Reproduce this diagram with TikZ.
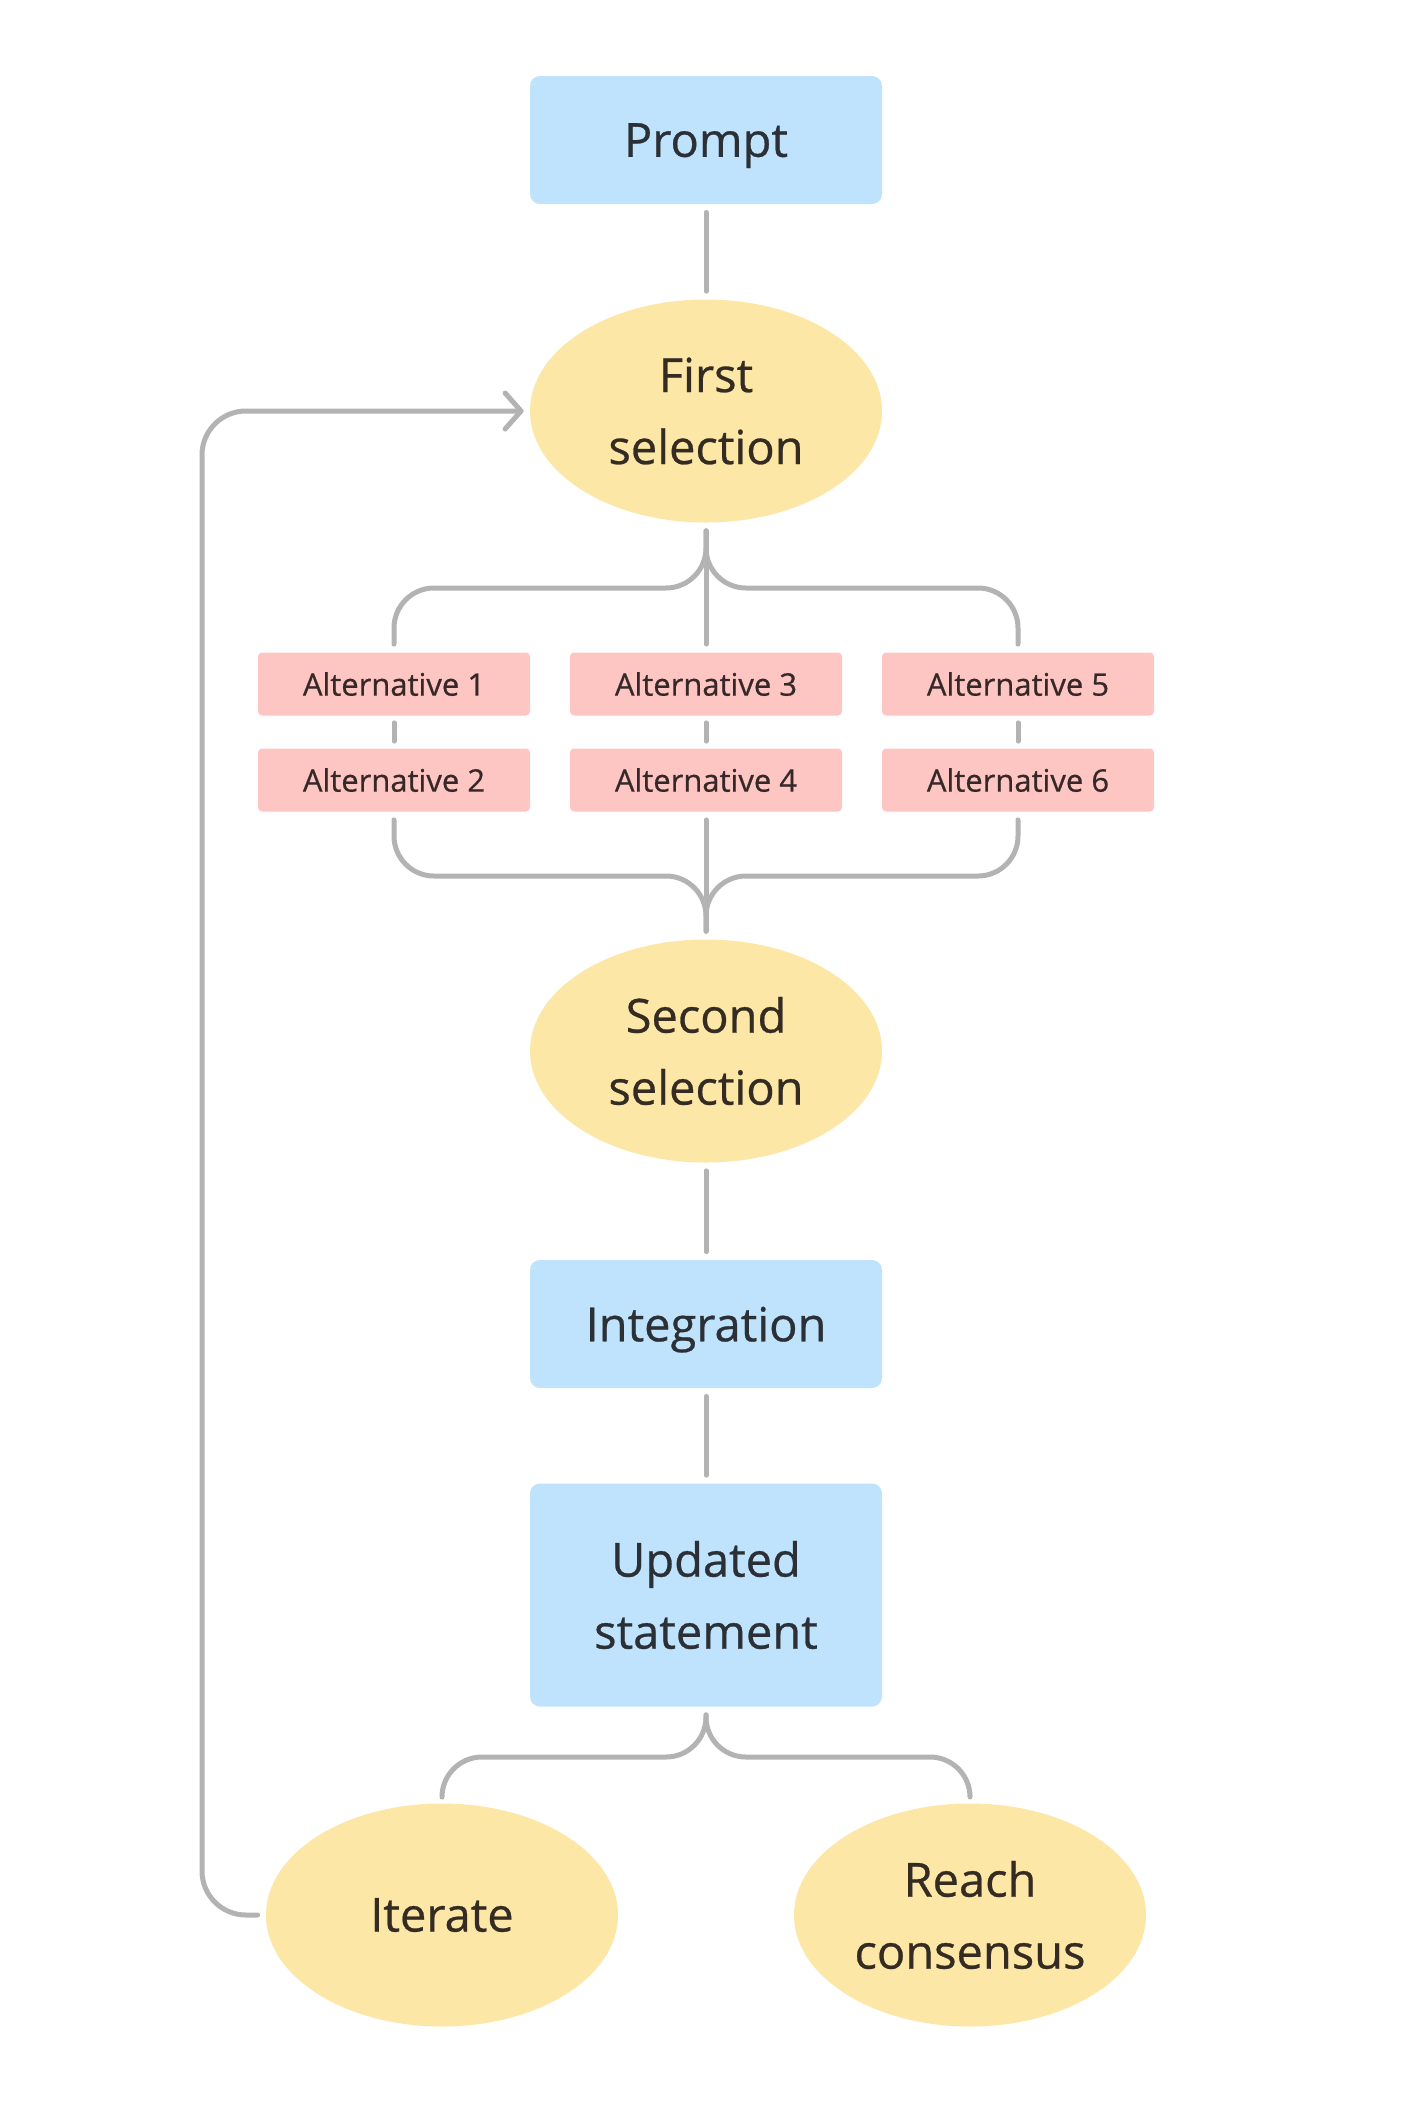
\documentclass[tikz,border=0pt]{standalone}
\usepackage{fontspec}
\setmainfont{Open Sans}[FakeBold=0.6]
\usetikzlibrary{shapes.geometric,arrows.meta,calc}
\definecolor{boxblue}{HTML}{BFE3FC}
\definecolor{ellyellow}{HTML}{FDE7A6}
\definecolor{altpink}{HTML}{FDC6C3}
\definecolor{linegray}{HTML}{B3B3B3}
\definecolor{txtblue}{HTML}{2A3036}
\definecolor{txtbrown}{HTML}{342C22}
\definecolor{txtpink}{HTML}{362828}
\begin{document}
\begin{tikzpicture}[x=0.5pt,y=-0.5pt,
  bluebox/.style={draw=none, fill=boxblue, rounded corners=5pt, minimum width=176pt, minimum height=64pt, inner sep=0pt, align=center, text=txtblue, font=\fontsize{23.5}{36}\selectfont},
  yell/.style={ellipse, draw=none, fill=ellyellow, minimum width=176pt, minimum height=111.5pt, inner sep=0pt, align=center, text=txtbrown, font=\fontsize{23.5}{36}\selectfont},
  alt/.style={draw=none, fill=altpink, rounded corners=2pt, minimum width=136pt, minimum height=31.5pt, inner sep=0pt, text=txtpink, font=\fontsize{15.5}{18}\selectfont},
  conn/.style={draw=linegray, line width=2.5pt, line cap=round, line join=round},
  brace/.style={conn, rounded corners=20pt}
]
\useasboundingbox[fill=white] (0,0) rectangle (1410,2106);

\node[bluebox, text depth=0pt] (prompt) at (706,140) {Prompt};
\node[yell] (fs) at (706,411) {First\\selection};
\node[alt] (a1) at (394,684) {Alternative 1};
\node[alt] (a2) at (394,780) {Alternative 2};
\node[alt] (a3) at (706,684) {Alternative 3};
\node[alt] (a4) at (706,780) {Alternative 4};
\node[alt] (a5) at (1018,684) {Alternative 5};
\node[alt] (a6) at (1018,780) {Alternative 6};
\node[yell] (ss) at (706,1051) {Second\\selection};
\node[bluebox, text depth=0pt] (integ) at (706,1324) {Integration};
\node[bluebox, minimum height=111.5pt] (upd) at (706,1595) {Updated\\statement};
\node[yell] (iter) at (442,1915) {Iterate};
\node[yell] (reach) at (970,1915) {Reach\\consensus};

\coordinate (j1) at (706,588);
\coordinate (j2) at (706,876);
\coordinate (j3) at (706,1757);
\coordinate (l1) at (202,1915);
\coordinate (l2) at (202,411);

\draw[conn] ([yshift=-4pt]prompt.south) -- ([yshift=4pt]fs.north);
\draw[conn] ([yshift=-4pt]fs.south) -- ([yshift=4pt]a3.north);
\draw[brace] ([yshift=-4pt]fs.south) -- (j1) -| ([yshift=4pt]a1.north);
\draw[brace] ([yshift=-4pt]fs.south) -- (j1) -| ([yshift=4pt]a5.north);

\draw[conn] ([yshift=-3.5pt]a1.south) -- ([yshift=3.5pt]a2.north);
\draw[conn] ([yshift=-3.5pt]a3.south) -- ([yshift=3.5pt]a4.north);
\draw[conn] ([yshift=-3.5pt]a5.south) -- ([yshift=3.5pt]a6.north);

\draw[brace] ([yshift=-4pt]a2.south) |- (j2) -- ([yshift=4pt]ss.north);
\draw[brace] ([yshift=-4pt]a6.south) |- (j2) -- ([yshift=4pt]ss.north);
\draw[conn] ([yshift=-4pt]a4.south) -- ([yshift=4pt]ss.north);

\draw[conn] ([yshift=-4pt]ss.south) -- ([yshift=4pt]integ.north);
\draw[conn] ([yshift=-4pt]integ.south) -- ([yshift=4pt]upd.north);

\draw[brace] ([yshift=-4pt]upd.south) -- (j3) -| ([yshift=4pt]iter.north);
\draw[brace] ([yshift=-4pt]upd.south) -- (j3) -| ([yshift=4pt]reach.north);

\draw[conn, rounded corners=22pt, -{Straight Barb[length=8pt,width=18pt,round]}] ([xshift=-4pt]iter.west) -- (l1) -- (l2) -- ([xshift=-3pt]fs.west);
\end{tikzpicture}
\end{document}
